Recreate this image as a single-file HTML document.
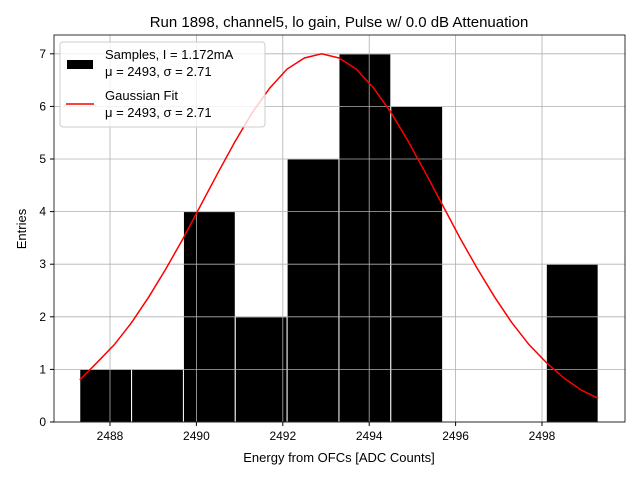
<!DOCTYPE html>
<html><head><meta charset="utf-8"><style>body{margin:0;background:#fff}svg{font-family:"Liberation Sans","DejaVu Sans",sans-serif}</style></head>
<body>
<svg id="c" width="640" height="480" xmlns="http://www.w3.org/2000/svg"></svg>
<script>
const binEdges=[2487.3,2488.5,2489.7,2490.9,2492.1,2493.3,2494.5,2495.7,2496.9,2498.1,2499.3];
const counts=[1,1,4,2,5,7,6,0,0,3];
const fitX=[2487.3,2487.7,2488.1,2488.5,2488.9,2489.3,2489.7,2490.1,2490.5,2490.9,2491.3,2491.7,2492.1,2492.5,2492.9,2493.3,2493.7,2494.1,2494.5,2494.9,2495.3,2495.7,2496.1,2496.5,2496.9,2497.3,2497.7,2498.1,2498.5,2498.9,2499.3];
const fitY=[0.8,1.13,1.47,1.89,2.38,2.92,3.5,4.12,4.74,5.34,5.89,6.35,6.71,6.92,7.0,6.92,6.71,6.35,5.89,5.34,4.74,4.12,3.5,2.92,2.38,1.89,1.47,1.13,0.84,0.61,0.45];
const xTicks=[2488,2490,2492,2494,2496,2498];
const yTicks=[0,1,2,3,4,5,6,7];
const L=54,R=625,T=35,B=422;
const sx=v=>110+(v-2488)*43.2, sy=v=>422-v*52.6;
const s=document.getElementById('c');const NS='http://www.w3.org/2000/svg';
function mk(t,a,p){const e=document.createElementNS(NS,t);for(const k in a)e.setAttribute(k,a[k]);(p||s).appendChild(e);return e;}
const bars=mk('g',{});


counts.forEach((c,i)=>{if(!c)return;const r=mk('rect',{x:sx(binEdges[i]),y:sy(c),width:sx(binEdges[i+1])-sx(binEdges[i]),height:sy(0)-sy(c),fill:'#000',stroke:'#fff','stroke-width':1},bars);

});
const grid=mk('g',{});


xTicks.forEach(v=>{mk('line',{x1:sx(v),x2:sx(v),y1:T,y2:B,stroke:'#b0b0b0','stroke-width':0.8},grid);});
yTicks.forEach(v=>{mk('line',{x1:L,x2:R,y1:sy(v),y2:sy(v),stroke:'#b0b0b0','stroke-width':0.8},grid);});
const fit=mk('polyline',{points:fitX.map((x,i)=>sx(x)+','+sy(fitY[i])).join(' '),fill:'none',stroke:'red','stroke-width':1.5});


mk('rect',{x:L,y:T,width:R-L,height:B-T,fill:'none',stroke:'#000','stroke-width':0.8});
xTicks.forEach(v=>{mk('line',{x1:sx(v),x2:sx(v),y1:B,y2:B+4,stroke:'#000'});const t=mk('text',{x:sx(v),y:B+18,'text-anchor':'middle','font-size':12});t.textContent=v;

});
yTicks.forEach(v=>{mk('line',{x1:L-4,x2:L,y1:sy(v),y2:sy(v),stroke:'#000'});const t=mk('text',{x:L-8,y:sy(v)+4,'text-anchor':'end','font-size':12});t.textContent=v;

});
let t=mk('text',{x:339,y:27,'text-anchor':'middle','font-size':15});t.textContent='Run 1898, channel5, lo gain, Pulse w/ 0.0 dB Attenuation';


t=mk('text',{x:339,y:462,'text-anchor':'middle','font-size':13});t.textContent='Energy from OFCs [ADC Counts]';


t=mk('text',{x:26,y:229,'text-anchor':'middle','font-size':13,transform:'rotate(-90 26 229)'});t.textContent='Entries';


const lg=mk('g',{});


mk('rect',{x:60,y:42,width:205,height:85,rx:3,fill:'#fff','fill-opacity':0.8,stroke:'#ccc'},lg);
mk('rect',{x:67,y:60,width:26,height:9,fill:'#000'},lg);
mk('line',{x1:66,x2:94,y1:104,y2:104,stroke:'red','stroke-width':1.5},lg);
[['Samples, I = 1.172mA',59],['\u03BC = 2493, \u03C3 = 2.71',76],['Gaussian Fit',100],['\u03BC = 2493, \u03C3 = 2.71',117]].forEach(a=>{const e=mk('text',{x:105,y:a[1],'font-size':13},lg);e.textContent=a[0];

});
</script>
</body></html>
